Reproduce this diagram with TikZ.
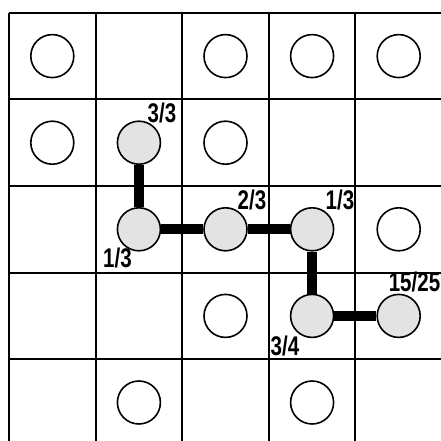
\documentclass[tikz,border=0pt]{standalone}
\usepackage{fontspec}
\setmainfont{Liberation Sans}
\definecolor{cellgray}{HTML}{E3E3E3}
\newcommand{\narrowlab}[1]{\scalebox{0.76}[1]{#1}}
\begin{document}
\begin{tikzpicture}[x=1pt,y=-1pt,
  gridline/.style={line width=2pt,black},
  emptycirc/.style={circle,draw,line width=1.6pt,minimum size=43pt,inner sep=0pt},
  fullcirc/.style={emptycirc,fill=cellgray},
  link/.style={line width=10pt,black},
  lab/.style={inner sep=0pt,font=\bfseries\fontsize{27}{27}\selectfont}]
\useasboundingbox (0,0) rectangle (440,441);
% grid
\foreach \x in {9,95.6,182.2,268.8,355.4}{\draw[gridline] (\x,12.8) -- (\x,445);}
\foreach \y in {12.8,99.4,186,272.6,359.2}{\draw[gridline] (9,\y) -- (445,\y);}
% empty circles
\node[emptycirc] (e00) at (52.3,56.1) {};
\node[emptycirc] (e02) at (225.5,56.1) {};
\node[emptycirc] (e03) at (312.1,56.1) {};
\node[emptycirc] (e04) at (398.7,56.1) {};
\node[emptycirc] (e10) at (52.3,142.7) {};
\node[emptycirc] (e12) at (225.5,142.7) {};
\node[emptycirc] (e24) at (398.7,229.3) {};
\node[emptycirc] (e32) at (225.5,315.9) {};
\node[emptycirc] (e41) at (138.9,402.5) {};
\node[emptycirc] (e43) at (312.1,402.5) {};
% gray circles
\node[fullcirc] (a) at (138.9,142.7) {};
\node[fullcirc] (b) at (138.9,229.3) {};
\node[fullcirc] (c) at (225.5,229.3) {};
\node[fullcirc] (d) at (312.1,229.3) {};
\node[fullcirc] (f) at (312.1,315.9) {};
\node[fullcirc] (g) at (398.7,315.9) {};
% links
\draw[link] (a) -- (b);
\draw[link] (b) -- (c);
\draw[link] (c) -- (d);
\draw[link] (d) -- (f);
\draw[link] (f) -- (g);
% labels
\node[lab] (la) at (162,112.5) {\narrowlab{3/3}};
\node[lab] (lb) at (117.5,257.5) {\narrowlab{1/3}};
\node[lab] (lc) at (252,199.5) {\narrowlab{2/3}};
\node[lab] (ld) at (340,199.5) {\narrowlab{1/3}};
\node[lab] (lf) at (285,346) {\narrowlab{3/4}};
\node[lab] (lg) at (414.5,282) {\narrowlab{15/25}};
\end{tikzpicture}
\end{document}
